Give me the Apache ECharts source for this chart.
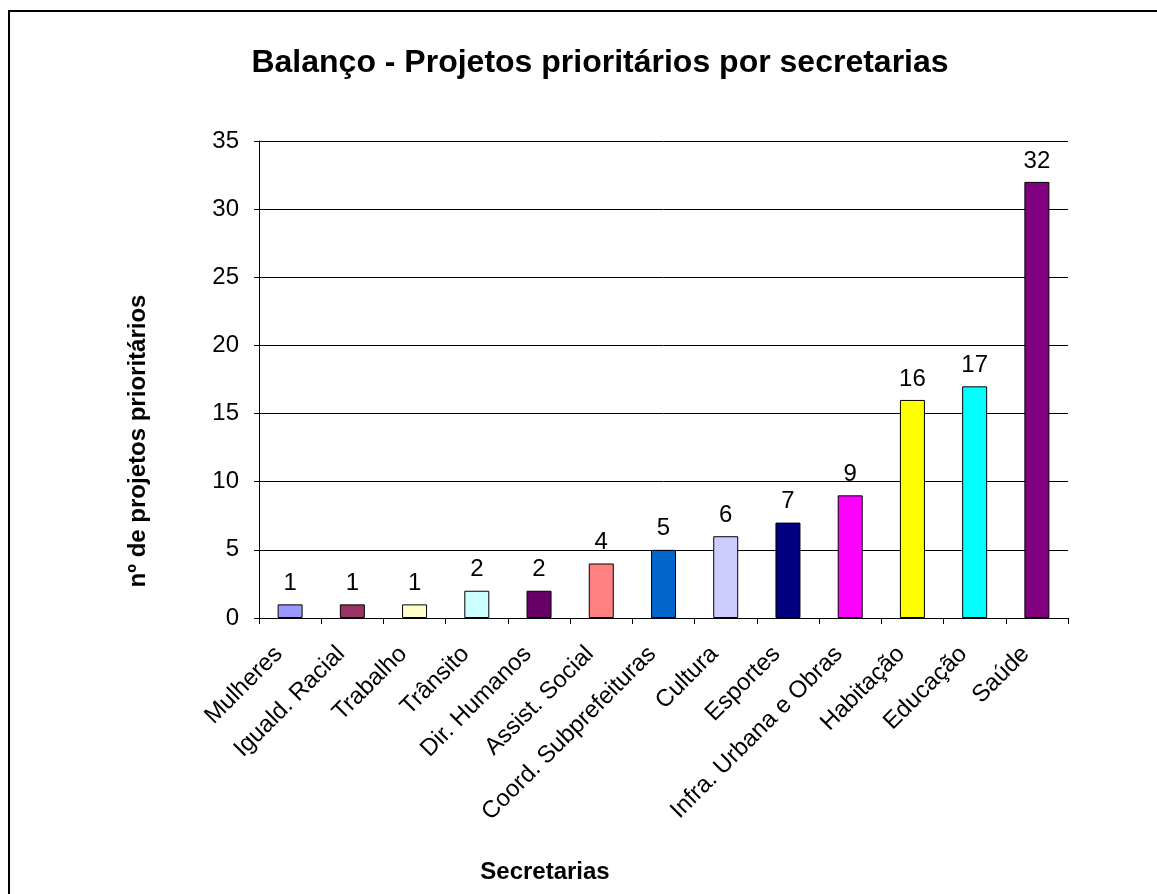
<!DOCTYPE html>
<html>
<head>
<meta charset="utf-8">
<script src="https://cdn.jsdelivr.net/npm/echarts@6/dist/echarts.min.js"></script>
<style>html,body{margin:0;padding:0;background:#fff;}#c{width:1157px;height:894px;}</style>
</head>
<body>
<div id="c"></div>
<script>
const categories = ["Mulheres","Iguald. Racial","Trabalho","Trânsito","Dir. Humanos","Assist. Social","Coord. Subprefeituras","Cultura","Esportes","Infra. Urbana e Obras","Habitação","Educação","Saúde"];
const values = [1,1,1,2,2,4,5,6,7,9,16,17,32];
const barColors = ["#9999FF","#993366","#FFFFCC","#CCFFFF","#660066","#FF8080","#0066CC","#CCCCFF","#000080","#FF00FF","#FFFF00","#00FFFF","#800080"];
const yTicks = [0,5,10,15,20,25,30,35];
const titleText = 'Balanço - Projetos prioritários por secretarias';
const xName = 'Secretarias';
const yName = 'nº de projetos prioritários';

const font = 'Arial, "Liberation Sans", sans-serif';
const chart = echarts.init(document.getElementById('c'), null, {renderer:'canvas'});
chart.setOption({
  animation:false,
  backgroundColor:'#fff',
  textStyle:{fontFamily:font},
  title:{text:titleText, left:595, top:42, textAlign:'center',
    textStyle:{fontSize:32, fontWeight:'bold', color:'#000', fontFamily:font}},
  graphic:[
    {type:'rect', shape:{x:9, y:11, width:1300, height:1000}, style:{fill:'none', stroke:'#000', lineWidth:2}, silent:true},
    {type:'text', x:545, y:872, style:{text:xName, fontSize:24, fontWeight:'bold', fill:'#000', font:'bold 24px Arial, "Liberation Sans", sans-serif', align:'center', verticalAlign:'middle'}},
    {type:'text', x:138, y:441, rotation:Math.PI/2, style:{text:yName, fontSize:24, fontWeight:'bold', fill:'#000', font:'bold 24px Arial, "Liberation Sans", sans-serif', align:'center', verticalAlign:'middle'}}
  ],
  grid:{left:259, right:89, top:141, bottom:276, containLabel:false, outerBoundsMode:'none'},
  xAxis:{type:'category', data:categories,
    axisLine:{lineStyle:{color:'#000', width:1}},
    axisTick:{show:true, length:6, interval:0, lineStyle:{color:'#000'}},
    axisLabel:{interval:0, rotate:45, fontSize:24, color:'#000', margin:21, fontFamily:font, padding:[0,16,0,0]}},
  yAxis:{type:'value', min:0, max:35, interval:5,
    axisLine:{show:true, lineStyle:{color:'#000', width:1}},
    axisTick:{show:true, length:5, lineStyle:{color:'#000'}},
    axisLabel:{fontSize:24, color:'#000', margin:20, fontFamily:font,
      formatter:function(v){return yTicks.indexOf(v)>=0 ? String(v) : '';}},
    splitLine:{show:true, lineStyle:{color:'#000', width:1}}},
  series:[{type:'bar', data:values.map((v,i)=>({value:v, itemStyle:{color:barColors[i]}})),
    barWidth:25,
    itemStyle:{borderColor:'#000', borderWidth:1},
    label:{show:true, position:'top', distance:9, fontSize:24, color:'#000', fontFamily:font}}]
});
</script>
</body>
</html>
